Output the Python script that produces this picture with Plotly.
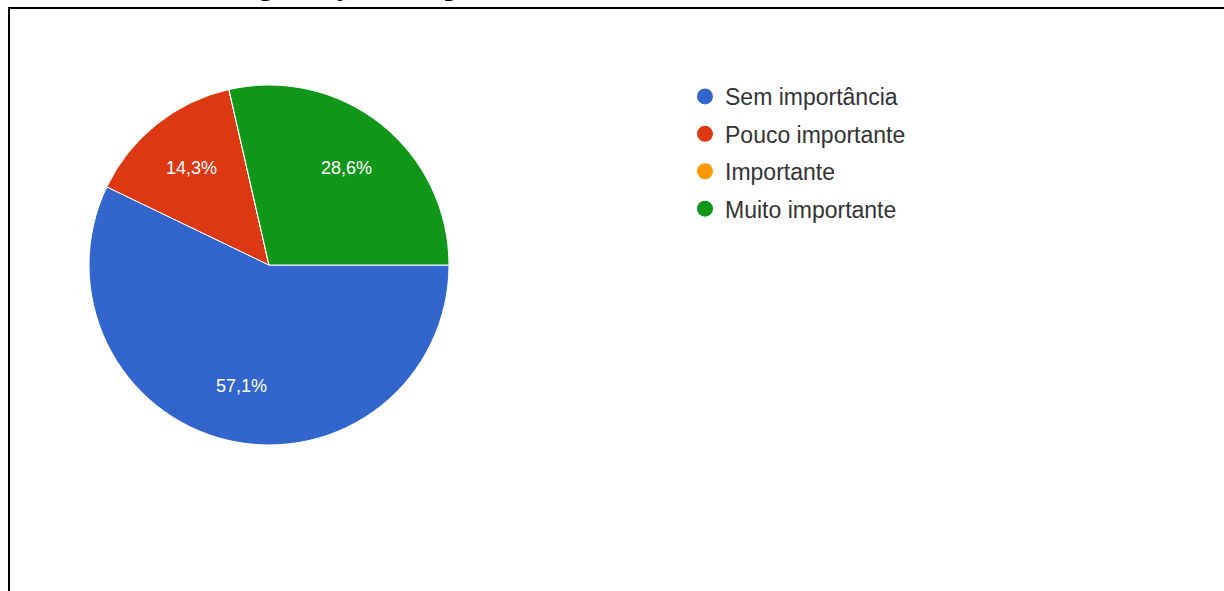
import math
import plotly.graph_objects as go

categories = ["Sem importância", "Pouco importante", "Importante", "Muito importante"]
responses = [4, 1, 0, 2]
colors = ["#3366CC", "#DC3912", "#FF9900", "#109618"]
title_text = "GRÁFICO 5 – Segurança da importância do sistema"

W, H = 1224, 591
# pie placement (pixels)
PIE_LEFT, PIE_TOP, PIE_D = 89, 85, 360
LABEL_R = 0.69

fig = go.Figure()

fig.add_trace(go.Pie(
    labels=categories,
    values=responses,
    marker=dict(colors=colors, line=dict(color="white", width=1)),
    sort=False,
    direction="clockwise",
    rotation=90,
    textinfo="none",
    showlegend=False,
    hoverinfo="label+percent",
    domain=dict(x=[PIE_LEFT / W, (PIE_LEFT + PIE_D) / W],
                y=[1 - (PIE_TOP + PIE_D) / H, 1 - PIE_TOP / H]),
))

for cat, col in zip(categories, colors):
    fig.add_trace(go.Scatter(
        x=[None], y=[None], mode="markers", name=cat,
        marker=dict(color=col, size=20, symbol="circle"),
        legendgroup=cat, showlegend=True,
    ))

# percentage labels placed at slice mid-angles derived from the values
total = sum(responses)
cx = PIE_LEFT + PIE_D / 2
cy = PIE_TOP + PIE_D / 2
R = PIE_D / 2
annotations = []
cum = 0.0
for v in responses:
    if v > 0:
        mid = (cum + v / 2) / total * 2 * math.pi  # clockwise from east
        px = cx + LABEL_R * R * math.cos(mid)
        py = cy + LABEL_R * R * math.sin(mid)
        pct = f"{100 * v / total:.1f}".replace(".", ",") + "%"
        annotations.append(dict(
            text=pct, xref="paper", yref="paper",
            x=px / W, y=1 - py / H, xanchor="center", yanchor="middle",
            showarrow=False,
            font=dict(family="Liberation Sans, Arial", size=18, color="white"),
        ))
    cum += v

annotations.append(dict(
    text=title_text, xref="paper", yref="paper",
    x=20 / W, y=1 - 3 / H, xanchor="left", yanchor="bottom",
    showarrow=False,
    font=dict(family="Liberation Serif, Times New Roman", size=33, color="black"),
))

fig.update_layout(
    width=W, height=H,
    margin=dict(l=0, r=0, t=0, b=0),
    paper_bgcolor="white",
    plot_bgcolor="white",
    separators=",.",
    xaxis=dict(visible=False),
    yaxis=dict(visible=False),
    legend=dict(
        x=685 / W, y=1 - 75 / H, xanchor="left", yanchor="top",
        font=dict(family="Liberation Sans, Arial", size=23, color="#333333"),
        traceorder="grouped", tracegroupgap=4.5,
        itemsizing="trace", bgcolor="rgba(0,0,0,0)",
    ),
    shapes=[dict(
        type="rect", xref="paper", yref="paper",
        x0=9 / W, y0=1 - 8 / H, x1=1.05, y1=-0.05,
        line=dict(color="black", width=2), fillcolor="rgba(0,0,0,0)",
        layer="above",
    )],
    annotations=annotations,
)

fig.write_html("out.html", config={"displayModeBar": False},
               post_script="document.body.style.margin='0px';")
